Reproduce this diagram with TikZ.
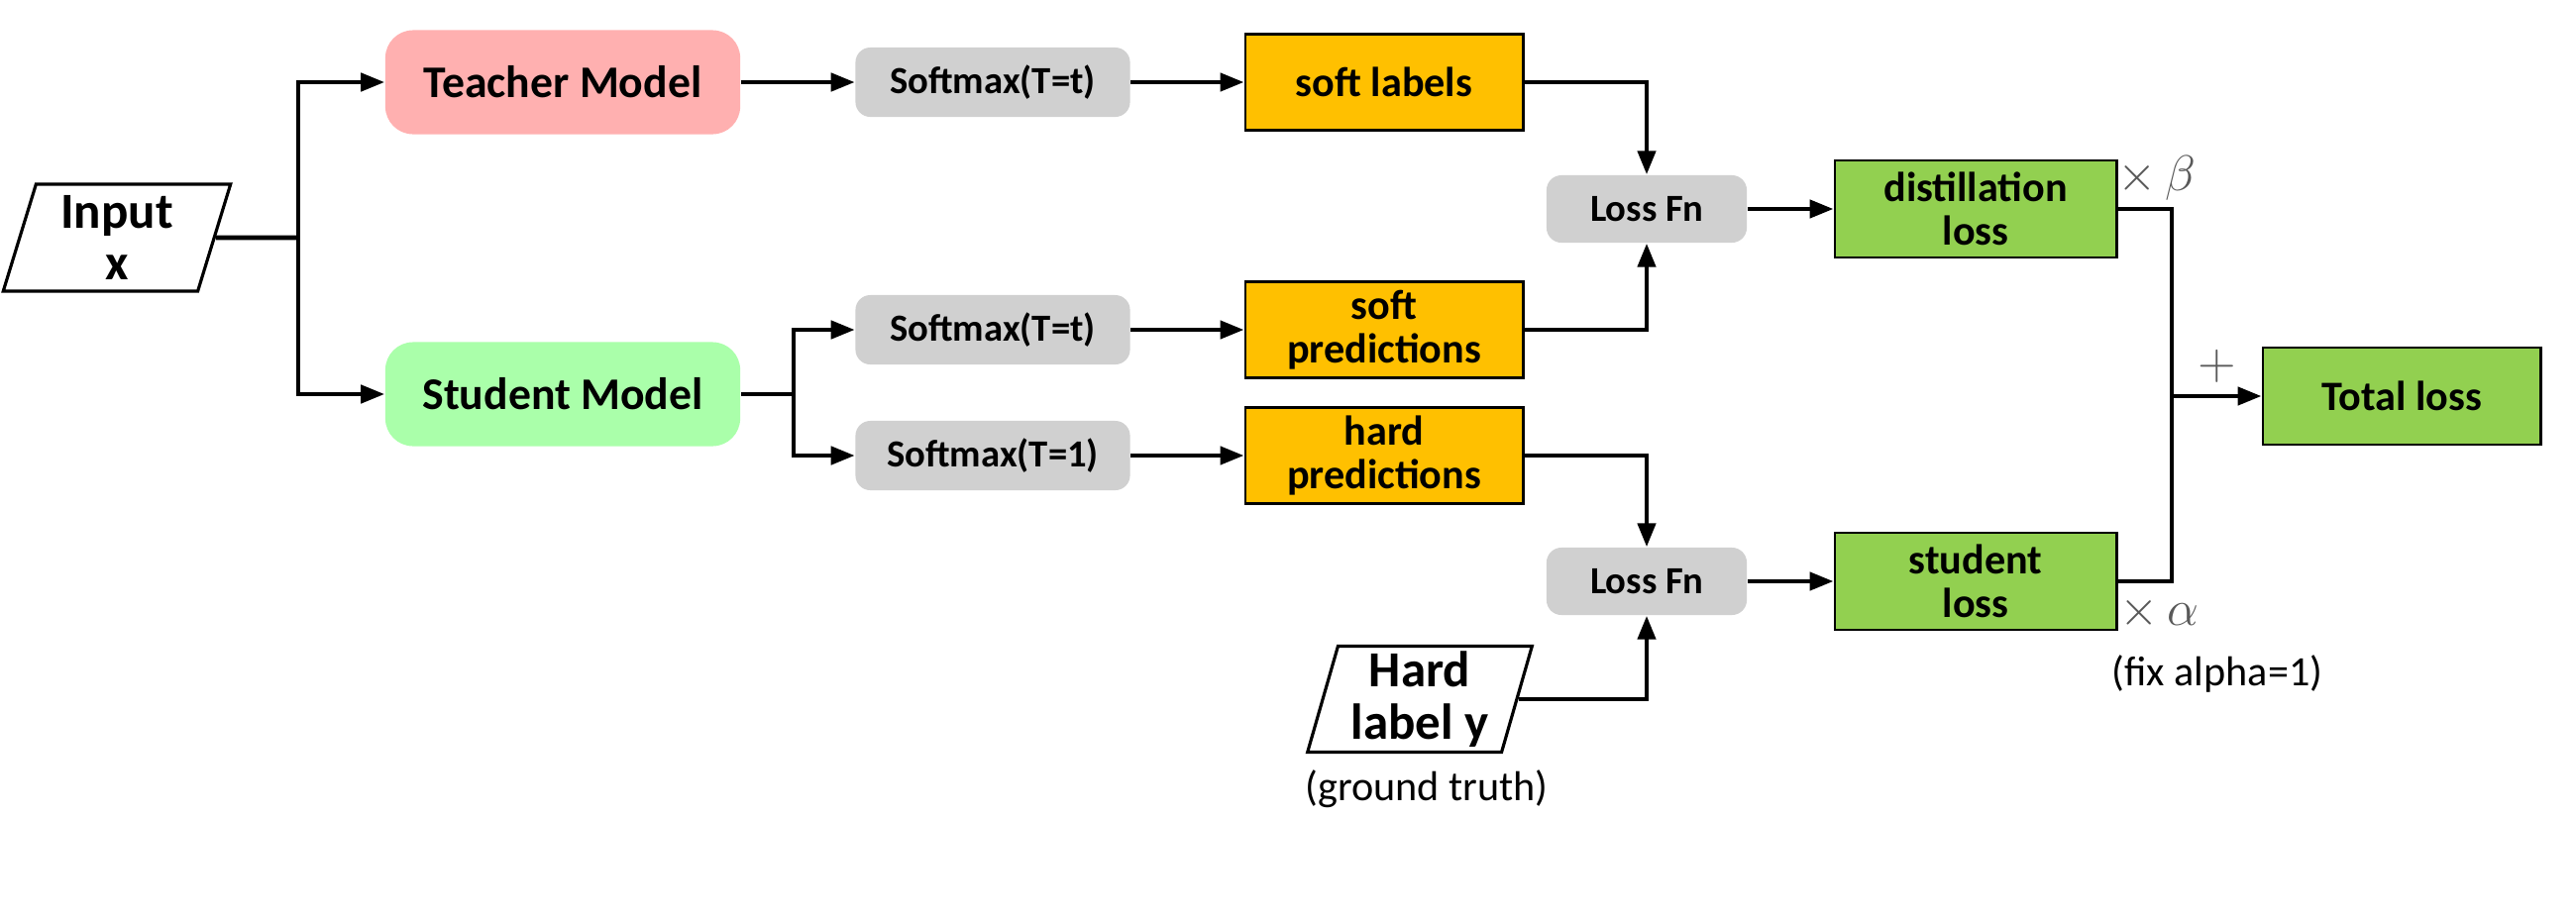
\documentclass[tikz,border=0pt]{standalone}
\usepackage{fontspec}
\setmainfont{Carlito}
\usetikzlibrary{shapes.geometric,arrows.meta}
\definecolor{teachfill}{RGB}{255,176,176}
\definecolor{studfill}{RGB}{170,255,170}
\definecolor{grayfill}{RGB}{208,208,208}
\definecolor{orfill}{RGB}{255,192,0}
\definecolor{grfill}{RGB}{146,208,80}
\begin{document}
\begin{tikzpicture}[x=0.01cm,y=-0.01cm,
  model/.style={rounded corners=0.28cm, minimum width=3.58cm, minimum height=1.05cm, inner sep=0pt, font=\fontsize{13}{15}\selectfont\bfseries, align=center},
  gbox/.style={fill=grayfill, rounded corners=0.15cm, minimum width=2.77cm, minimum height=0.70cm, inner sep=0pt, font=\fontsize{11}{13}\selectfont\bfseries},
  lfbox/.style={gbox, minimum width=2.02cm, minimum height=0.68cm},
  obox/.style={draw=black, line width=0.8pt, fill=orfill, minimum width=2.80cm, minimum height=0.97cm, inner sep=0pt, font=\fontsize{12}{12.6}\selectfont\bfseries, align=center},
  lbox/.style={obox, fill=grfill, minimum width=2.84cm, minimum height=0.98cm},
  para/.style={trapezium, trapezium left angle=75, trapezium right angle=105, trapezium stretches=true, draw=black, line width=0.9pt, inner sep=0pt, font=\fontsize{14.5}{15}\selectfont\bfseries, align=center},
  ln/.style={line width=1.3pt},
  arr/.style={line width=1.3pt, -{Triangle[length=0.24cm,width=0.18cm]}},
  mlab/.style={text=black!65, font=\fontsize{14.5}{16}\selectfont, inner sep=0pt},
  note/.style={font=\fontsize{12}{14}\selectfont, inner sep=0pt}
]
\useasboundingbox (0,0) rectangle (2600,927);

\node[para, minimum width=2.30cm, minimum height=1.08cm] (in) at (118,240) {Input\\x};
\node[model, fill=teachfill] (tm) at (568,83) {Teacher Model};
\node[model, fill=studfill] (sm) at (568,398) {Student Model};

\node[gbox] (s1) at (1002,83) {Softmax(T=t)};
\node[gbox] (s2) at (1002,333) {Softmax(T=t)};
\node[gbox] (s3) at (1002,460) {Softmax(T=1)};

\node[obox] (sl) at (1397,83) {soft labels};
\node[obox] (sp) at (1397,333) {soft\\predictions};
\node[obox] (hp) at (1397,460) {hard\\predictions};

\node[lfbox] (lf1) at (1662,211) {Loss Fn};
\node[lfbox] (lf2) at (1662,587) {Loss Fn};

\node[para, minimum width=2.27cm, minimum height=1.07cm] (hl) at (1433,706) {Hard\\label y};
\node[note] (gt) at (1440,797) {(ground truth)};

\node[lbox] (dl) at (1994,211) {distillation\\loss};
\node[lbox] (stl) at (1994,587) {student\\loss};
\node[lbox, minimum width=2.80cm] (tl) at (2424,400) {Total loss};

\node[mlab] (xb) at (2177,180) {$\times\,\beta$};
\node[mlab] (pl) at (2238,370) {$+$};
\node[mlab] (xa) at (2179,619) {$\times\,\alpha$};
\node[note] (fa) at (2238,680) {(fix alpha=1)};

\coordinate (b1) at (301,240);
\coordinate (b2) at (801,398);
\coordinate (c) at (2192,400);

\draw[ln] (in.east) -- (b1);
\draw[arr] (b1) |- (tm.west);
\draw[arr] (b1) |- (sm.west);
\draw[arr] (tm.east) -- (s1.west);
\draw[ln] (sm.east) -- (b2);
\draw[arr] (b2) |- (s2.west);
\draw[arr] (b2) |- (s3.west);
\draw[arr] (s1.east) -- (sl.west);
\draw[arr] (s2.east) -- (sp.west);
\draw[arr] (s3.east) -- (hp.west);
\draw[arr] (sl.east) -| (lf1.north);
\draw[arr] (sp.east) -| (lf1.south);
\draw[arr] (hp.east) -| (lf2.north);
\draw[arr] (hl.east) -| (lf2.south);
\draw[arr] (lf1.east) -- (dl.west);
\draw[arr] (lf2.east) -- (stl.west);
\draw[ln] (dl.east) -| (c) |- (stl.east);
\draw[arr] (c) -- (tl.west);
\end{tikzpicture}
\end{document}
